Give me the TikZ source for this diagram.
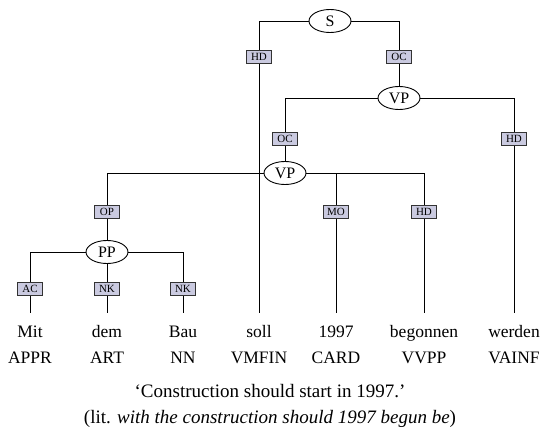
\documentclass[tikz,border=0pt]{standalone}
\usepackage{fontspec}
\setmainfont{Liberation Serif}
\usetikzlibrary{shapes.geometric}

\definecolor{edgefill}{RGB}{202,202,224}

\begin{document}
\begin{tikzpicture}[x=1pt,y=-1pt,
    cat/.style={ellipse,draw,line width=0.9pt,fill=white,minimum width=42pt,minimum height=23pt,inner sep=0pt,font=\fontsize{16}{16}\selectfont},
    lab/.style={rectangle,draw=black!80,line width=0.7pt,fill=edgefill,minimum width=25pt,minimum height=13pt,inner sep=0pt,font=\fontsize{11}{11}\selectfont},
    word/.style={anchor=base,inner sep=0pt,text height=12pt,text depth=4pt,outer ysep=12pt,font=\fontsize{17.5}{17.5}\selectfont},
    tagtext/.style={anchor=base,inner sep=0pt,font=\fontsize{17.5}{17.5}\selectfont},
    glosstext/.style={anchor=base,inner sep=0pt,font=\fontsize{19}{19}\selectfont},
    every path/.style={line width=1pt}]

    \useasboundingbox (0,0) rectangle (542,432);
    % \draw [help lines,step=10] (0,0) grid (542,432);

    % words and tags
    \path   (30,337)  node (w1) [word] {Mit}
            (107,337) node (w2) [word] {dem}
            (183,337) node (w3) [word] {Bau}
            (259,337) node (w4) [word] {soll}
            (336,337) node (w5) [word] {1997}
            (424,337) node (w6) [word] {begonnen}
            (514,337) node (w7) [word] {werden};

    \path   (30,363)  node (t1) [tagtext] {APPR}
            (107,363) node (t2) [tagtext] {ART}
            (183,363) node (t3) [tagtext] {NN}
            (259,363) node (t4) [tagtext] {VMFIN}
            (336,363) node (t5) [tagtext] {CARD}
            (424,363) node (t6) [tagtext] {VVPP}
            (514,363) node (t7) [tagtext] {VAINF};

    % phrase nodes
    \path   (330,21)  node (s)   [cat] {S}
            (399,98)  node (vpa) [cat] {VP}
            (285,173) node (vpb) [cat] {VP}
            (107,252) node (pp)  [cat] {PP};

    % edge labels
    \path   (259,57)  node (hds)  [lab] {HD}
            (399,57)  node (ocs)  [lab] {OC}
            (285,139) node (ocvp) [lab] {OC}
            (514,139) node (hdvp) [lab] {HD}
            (107,212) node (opvp) [lab] {OP}
            (336,212) node (movp) [lab] {MO}
            (424,212) node (hdvv) [lab] {HD}
            (30,289)  node (acpp) [lab] {AC}
            (107,289) node (nkpa) [lab] {NK}
            (183,289) node (nkpb) [lab] {NK};

    \draw (s) -| (hds);
    \draw (s) -| (ocs);
    \draw (hds) -- (w4);
    \draw (ocs) -- (vpa);

    \draw (vpa) -| (ocvp);
    \draw (vpa) -| (hdvp);
    \draw (ocvp) -- (vpb);
    \draw (hdvp) -- (w7);

    \draw (vpb) -| (opvp);
    \draw (vpb) -| (movp);
    \draw (vpb) -| (hdvv);
    \draw (opvp) -- (pp);
    \draw (movp) -- (w5);
    \draw (hdvv) -- (w6);

    \draw (pp) -| (acpp);
    \draw (pp) -- (nkpa);
    \draw (pp) -| (nkpb);
    \draw (acpp) -- (w1);
    \draw (nkpa) -- (w2);
    \draw (nkpb) -- (w3);

    % translation
    \node (gloss) [glosstext] at (270,397) {‘Construction should start in 1997.’};
    \node (lit) [glosstext] at (270,423) {(lit. \textit{with the construction should 1997 begun be})};

\end{tikzpicture}
\end{document}
